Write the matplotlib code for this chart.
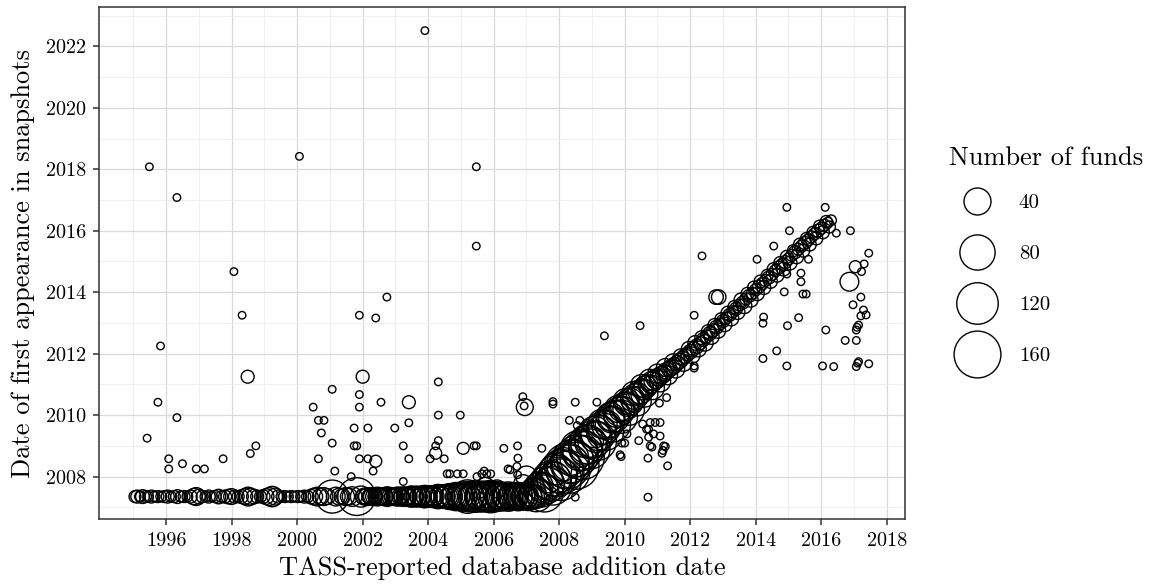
import numpy as np
import matplotlib
matplotlib.use("Agg")
import matplotlib.pyplot as plt
from matplotlib.lines import Line2D

# first date covered by the snapshots: funds already in the db sit on this line
FIRST_SNAPSHOT = 2007.35

# funds added before the snapshots started (x = TASS addition date, n = number of funds)
base_x = [1995.05, 1995.12, 1995.20, 1995.28, 1995.37, 1995.45, 1995.55, 1995.65, 1995.75, 1995.85, 1995.95,
          1996.05, 1996.15, 1996.25, 1996.35, 1996.45, 1996.55, 1996.65, 1996.75, 1996.85, 1996.92, 1997.00,
          1997.10, 1997.20, 1997.30, 1997.40, 1997.50, 1997.60, 1997.70, 1997.80, 1997.90, 1998.00,
          1998.10, 1998.20, 1998.30, 1998.40, 1998.50, 1998.58, 1998.68, 1998.78, 1998.88, 1998.96,
          1999.05, 1999.15, 1999.24, 1999.33, 1999.42, 1999.52, 1999.62, 1999.72, 1999.82, 1999.92,
          2000.02, 2000.12, 2000.22, 2000.32, 2000.42, 2000.52, 2000.62, 2000.72, 2000.82, 2000.92,
          2001.07, 2001.18, 2001.28, 2001.38, 2001.48, 2001.58, 2001.68, 2001.82, 2001.95,
          2002.05, 2002.15, 2002.25, 2002.35, 2002.45, 2002.55, 2002.65, 2002.75, 2002.85, 2002.95,
          2003.05, 2003.15, 2003.25, 2003.35, 2003.45, 2003.55, 2003.65, 2003.75, 2003.85, 2003.95,
          2004.05, 2004.15, 2004.25, 2004.35, 2004.45, 2004.55, 2004.65, 2004.75, 2004.85, 2004.95,
          2005.05, 2005.15, 2005.25, 2005.35, 2005.45, 2005.55, 2005.65, 2005.75, 2005.85, 2005.95,
          2006.05, 2006.15, 2006.25, 2006.35, 2006.45, 2006.55, 2006.65, 2006.75, 2006.85, 2006.95,
          2007.05, 2007.15,
          2002.00, 2002.10, 2002.20, 2002.30, 2002.40, 2002.50, 2002.60, 2002.70, 2002.80, 2002.90,
          2003.00, 2003.10, 2003.20, 2003.30, 2003.40, 2003.50, 2003.60, 2003.70, 2003.80, 2003.90,
          2004.00, 2004.10, 2004.20, 2004.30, 2004.40, 2004.50, 2004.60, 2004.70, 2004.80, 2004.90,
          2005.00, 2005.10, 2005.20, 2005.30, 2005.40, 2005.50, 2005.60, 2005.70, 2005.80, 2005.90,
          2006.00, 2006.10, 2006.20, 2006.30, 2006.40, 2006.50, 2006.60, 2006.70, 2006.80, 2006.90,
          2007.00, 2007.10, 2007.25]
base_n = [3, 4, 2, 5, 3, 2, 4, 2, 3, 2, 3,
          4, 2, 3, 5, 2, 3, 2, 4, 9, 12, 6,
          3, 2, 4, 2, 3, 6, 3, 4, 6, 8,
          4, 3, 5, 8, 14, 10, 6, 4, 3, 5,
          8, 12, 18, 10, 4, 2, 3, 2, 3, 2,
          3, 2, 4, 3, 6, 10, 14, 9, 12, 8,
          68, 14, 10, 8, 12, 10, 16, 95, 20,
          10, 12, 8, 10, 14, 9, 12, 16, 10, 12,
          14, 10, 16, 12, 18, 14, 20, 16, 22, 18,
          20, 16, 24, 20, 28, 24, 36, 30, 45, 40,
          50, 42, 55, 48, 60, 45, 58, 50, 52, 46,
          55, 40, 48, 36, 50, 42, 38, 46, 40, 34,
          44, 36,
          6, 8, 6, 12, 6, 10, 8, 6, 12, 8,
          10, 14, 8, 12, 10, 20, 12, 10, 14, 24,
          12, 22, 14, 30, 18, 20, 26, 22, 34, 28,
          36, 30, 70, 34, 40, 30, 44, 36, 40, 65,
          38, 30, 44, 28, 36, 30, 42, 28, 32, 26,
          30, 28, 30]

# main diagonal: funds that first show up in the snapshots after their addition
curve_x = [2007.20, 2007.28, 2007.36, 2007.44, 2007.52, 2007.60, 2007.68, 2007.76, 2007.84, 2007.92,
           2008.00, 2008.08, 2008.16, 2008.24, 2008.32, 2008.40, 2008.48, 2008.56, 2008.64, 2008.72,
           2008.80, 2008.88, 2008.96, 2009.04, 2009.12, 2009.20, 2009.28, 2009.36, 2009.44, 2009.52,
           2009.60, 2009.68, 2009.76, 2009.84, 2009.92, 2010.00, 2010.08, 2010.16, 2010.24, 2010.32,
           2010.40, 2010.48, 2010.56, 2010.64, 2010.72, 2010.80, 2010.88, 2010.96, 2011.04, 2011.12,
           2011.20, 2011.28, 2011.36, 2011.44, 2011.52, 2011.60, 2011.68, 2011.76, 2011.84, 2011.92,
           2012.00, 2012.10, 2012.20, 2012.30, 2012.40, 2012.50, 2012.60, 2012.70, 2012.80, 2012.90,
           2013.00, 2013.10, 2013.20, 2013.30, 2013.40, 2013.50, 2013.60, 2013.70, 2013.80, 2013.90,
           2014.00, 2014.10, 2014.20, 2014.30, 2014.40, 2014.50, 2014.60, 2014.70, 2014.80, 2014.90,
           2015.00, 2015.10, 2015.20, 2015.30, 2015.40, 2015.50, 2015.60, 2015.70, 2015.80, 2015.90,
           2016.00, 2016.10, 2016.20, 2016.30,
           2007.30, 2007.40, 2007.55, 2007.65, 2007.80, 2007.90, 2008.05, 2008.12, 2008.28, 2008.36,
           2008.50, 2008.60, 2008.70, 2008.84, 2008.94, 2009.08, 2009.16, 2009.32, 2009.40, 2009.56,
           2009.64, 2009.80, 2009.88, 2010.04, 2010.12, 2010.28, 2010.36, 2010.52, 2010.60, 2010.76,
           2010.84, 2011.00, 2011.08, 2011.24, 2011.32, 2011.48, 2011.56, 2011.72, 2011.80, 2011.96,
           2012.05, 2012.15, 2012.25, 2012.35, 2012.45, 2012.55, 2012.65, 2012.75, 2012.85, 2012.95,
           2013.05, 2013.15, 2013.25, 2013.35, 2013.45, 2013.55, 2013.65, 2013.75, 2013.85, 2013.95,
           2014.05, 2014.15, 2014.25, 2014.35, 2014.45, 2014.55, 2014.65, 2014.75, 2014.85, 2014.95,
           2015.05, 2015.15, 2015.25, 2015.35, 2015.45, 2015.55, 2015.65, 2015.75, 2015.85, 2015.95,
           2016.05, 2016.15, 2016.25]
curve_y = [2007.42, 2007.48, 2007.50, 2007.58, 2007.62, 2007.72, 2007.78, 2007.86, 2007.92, 2008.02,
           2008.06, 2008.16, 2008.22, 2008.34, 2008.40, 2008.50, 2008.58, 2008.68, 2008.76, 2008.86,
           2008.92, 2009.04, 2009.10, 2009.22, 2009.30, 2009.42, 2009.50, 2009.60, 2009.68, 2009.78,
           2009.86, 2009.96, 2010.04, 2010.12, 2010.20, 2010.28, 2010.36, 2010.44, 2010.52, 2010.60,
           2010.68, 2010.76, 2010.84, 2010.92, 2010.98, 2011.06, 2011.12, 2011.18, 2011.24, 2011.30,
           2011.36, 2011.44, 2011.50, 2011.56, 2011.62, 2011.70, 2011.76, 2011.84, 2011.92, 2011.98,
           2012.06, 2012.16, 2012.24, 2012.34, 2012.46, 2012.56, 2012.66, 2012.76, 2012.86, 2012.96,
           2013.06, 2013.16, 2013.26, 2013.36, 2013.46, 2013.58, 2013.66, 2013.78, 2013.88, 2013.96,
           2014.08, 2014.18, 2014.28, 2014.38, 2014.48, 2014.58, 2014.70, 2014.80, 2014.90, 2014.98,
           2015.08, 2015.20, 2015.30, 2015.40, 2015.50, 2015.60, 2015.70, 2015.80, 2015.90, 2016.00,
           2016.08, 2016.18, 2016.26, 2016.34,
           2007.40, 2007.70, 2007.45, 2007.95, 2007.70, 2008.25, 2007.90, 2008.40, 2008.15, 2008.62,
           2008.35, 2008.90, 2008.62, 2009.15, 2008.90, 2009.45, 2009.15, 2009.72, 2009.45, 2009.95,
           2009.70, 2010.20, 2009.95, 2010.45, 2010.18, 2010.70, 2010.45, 2010.95, 2010.70, 2011.15,
           2010.90, 2011.35, 2011.10, 2011.55, 2011.30, 2011.72, 2011.50, 2011.90, 2011.70, 2012.15,
           2011.95, 2012.35, 2012.15, 2012.52, 2012.35, 2012.72, 2012.55, 2012.92, 2012.75, 2013.12,
           2012.95, 2013.32, 2013.15, 2013.52, 2013.35, 2013.75, 2013.55, 2013.95, 2013.75, 2014.15,
           2013.95, 2014.35, 2014.15, 2014.55, 2014.35, 2014.75, 2014.55, 2014.95, 2014.75, 2015.15,
           2014.95, 2015.35, 2015.15, 2015.55, 2015.35, 2015.75, 2015.55, 2015.95, 2015.75, 2016.15,
           2015.95, 2016.30, 2016.12]
curve_n = [40, 60, 30, 80, 50, 90, 60, 110, 70, 120,
           80, 140, 90, 150, 100, 130, 90, 120, 80, 110,
           70, 100, 60, 90, 60, 80, 50, 70, 50, 60,
           40, 60, 40, 50, 35, 45, 30, 40, 30, 35,
           25, 30, 20, 25, 18, 20, 15, 16, 12, 12,
           10, 10, 8, 9, 8, 7, 7, 6, 6, 5,
           6, 5, 6, 4, 5, 4, 5, 4, 5, 3,
           4, 3, 4, 3, 4, 3, 4, 3, 4, 3,
           3, 4, 3, 3, 4, 3, 3, 4, 3, 4,
           3, 3, 4, 3, 3, 4, 3, 3, 3, 4,
           3, 3, 2, 2,
           70, 40, 90, 50, 100, 60, 120, 70, 130, 80,
           160, 90, 140, 70, 110, 60, 100, 50, 90, 45,
           80, 40, 70, 35, 60, 30, 50, 25, 40, 20,
           30, 15, 20, 12, 15, 10, 12, 8, 10, 7,
           9, 6, 8, 5, 9, 5, 7, 5, 7, 4,
           6, 5, 7, 4, 6, 5, 7, 4, 6, 4,
           5, 4, 5, 3, 5, 4, 5, 4, 5, 4,
           5, 3, 5, 4, 4, 3, 4, 3, 4, 3,
           4, 3, 3]

# scattered funds off the two main patterns
other_x = [1995.49, 1996.33, 2000.07, 2003.90, 2005.47, 2005.47, 1998.07, 1998.32, 1995.83, 1998.49,
           1995.75, 1996.33, 1995.42, 1996.08, 1996.08, 1996.50, 1996.92, 1997.17, 1997.74, 1998.57,
           1998.74, 2001.90, 2002.40, 2002.74, 2002.00, 2001.07, 2001.90, 2001.90, 2000.49, 2002.56,
           2003.41, 2000.65, 2000.82, 2000.74, 2001.74, 2002.16, 2002.98, 2003.41, 2001.07, 2001.74,
           2001.82, 2003.24, 2000.65, 2001.90, 2002.16, 2002.40, 2003.41, 2001.15, 2002.32, 2001.65,
           2003.24, 2004.31, 2004.31, 2004.98, 2004.31, 2004.23, 2004.23, 2004.06, 2004.49, 2005.07,
           2005.40, 2005.47, 2006.31, 2004.58, 2004.66, 2004.89, 2005.07, 2005.49, 2005.64, 2005.71,
           2005.79, 2005.91, 2006.44, 2006.50, 2006.71, 2006.73, 2006.89, 2006.95, 2006.93, 2007.81,
           2007.81, 2008.31, 2008.63, 2008.55, 2008.55, 2006.73, 2007.47, 2006.74, 2008.49, 2009.15,
           2009.38, 2010.47, 2009.38, 2010.07, 2009.91, 2010.00, 2009.86, 2009.89, 2008.49, 2010.71,
           2011.28, 2011.06, 2010.55, 2010.78, 2010.93, 2011.08, 2010.67, 2010.73, 2010.88, 2011.08,
           2010.43, 2010.73, 2010.78, 2010.83, 2011.19, 2011.24, 2011.14, 2011.17, 2010.71, 2011.31,
           2012.36, 2012.12, 2012.79, 2012.87, 2012.12, 2012.12, 2014.04, 2014.55, 2014.95, 2015.03,
           2016.12, 2014.95, 2015.38, 2015.38, 2015.61, 2014.87, 2015.44, 2015.54, 2014.24, 2014.22,
           2014.97, 2015.31, 2016.14, 2014.22, 2014.64, 2014.95, 2016.04, 2016.38, 2016.46, 2016.89,
           2017.45, 2017.04, 2017.31, 2017.23, 2016.86, 2017.21, 2016.97, 2017.29, 2017.37, 2017.21,
           2017.14, 2017.09, 2017.07, 2016.73, 2017.07, 2017.07, 2017.14, 2017.11, 2017.45,
           2005.55, 2005.75, 2006.10, 2006.90, 2007.00]
other_y = [2018.08, 2017.08, 2018.42, 2022.51, 2018.08, 2015.50, 2014.67, 2013.25, 2012.25, 2011.25,
           2010.42, 2009.92, 2009.25, 2008.58, 2008.25, 2008.42, 2008.25, 2008.25, 2008.58, 2008.75,
           2009.00, 2013.25, 2013.16, 2013.84, 2011.25, 2010.84, 2010.67, 2010.26, 2010.26, 2010.42,
           2010.42, 2009.83, 2009.83, 2009.42, 2009.58, 2009.58, 2009.58, 2009.75, 2009.09, 2009.00,
           2009.00, 2009.00, 2008.58, 2008.58, 2008.58, 2008.50, 2008.58, 2008.18, 2008.18, 2008.00,
           2007.84, 2011.08, 2010.00, 2010.00, 2009.17, 2009.00, 2008.76, 2008.58, 2008.58, 2008.92,
           2009.00, 2009.00, 2008.92, 2008.09, 2008.09, 2008.09, 2008.09, 2008.00, 2008.09, 2008.18,
           2008.09, 2008.09, 2008.25, 2008.22, 2008.33, 2008.06, 2010.60, 2010.26, 2010.30, 2010.44,
           2010.36, 2009.83, 2009.83, 2009.66, 2009.33, 2009.00, 2008.92, 2008.60, 2010.42, 2010.42,
           2012.58, 2012.91, 2010.19, 2009.39, 2009.09, 2009.09, 2008.71, 2008.65, 2007.33, 2007.33,
           2010.57, 2010.39, 2009.71, 2009.76, 2009.76, 2009.76, 2009.54, 2009.54, 2009.39, 2009.32,
           2009.17, 2009.28, 2009.00, 2008.96, 2009.00, 2008.98, 2008.76, 2008.85, 2008.60, 2008.35,
           2015.18, 2013.25, 2013.84, 2013.84, 2011.60, 2011.53, 2015.07, 2015.50, 2016.76, 2016.00,
           2016.76, 2014.59, 2014.62, 2014.34, 2015.07, 2014.01, 2013.94, 2013.94, 2013.19, 2012.99,
           2012.91, 2013.17, 2012.77, 2011.84, 2012.09, 2011.60, 2011.60, 2011.58, 2015.92, 2016.00,
           2015.27, 2014.83, 2014.92, 2014.67, 2014.34, 2013.84, 2013.59, 2013.42, 2013.26, 2013.23,
           2012.93, 2012.86, 2012.77, 2012.43, 2012.43, 2011.58, 2011.74, 2011.69, 2011.67,
           2007.55, 2007.70, 2007.60, 2007.75, 2008.00]
other_n = [1, 1, 1, 1, 1, 1, 1, 1, 1, 4,
           1, 1, 1, 1, 1, 1, 1, 1, 1, 1,
           1, 1, 1, 1, 4, 1, 1, 1, 1, 1,
           4, 1, 1, 1, 1, 1, 1, 1, 1, 1,
           1, 1, 1, 1, 1, 3, 1, 1, 1, 1,
           1, 1, 1, 1, 1, 1, 3, 1, 1, 3,
           1, 1, 1, 1, 1, 1, 1, 1, 1, 1,
           1, 1, 1, 1, 1, 1, 1, 10, 1, 1,
           1, 1, 1, 1, 1, 1, 1, 1, 1, 1,
           1, 1, 1, 1, 1, 1, 1, 1, 1, 1,
           1, 1, 1, 1, 1, 1, 1, 1, 1, 1,
           1, 1, 1, 1, 1, 1, 1, 1, 1, 1,
           1, 1, 6, 6, 1, 1, 1, 1, 1, 1,
           1, 1, 1, 1, 1, 1, 1, 1, 1, 1,
           1, 1, 1, 1, 1, 1, 1, 1, 1, 1,
           1, 3, 1, 1, 14, 1, 1, 1, 1, 1,
           1, 1, 1, 1, 1, 1, 1, 1, 1,
           8, 10, 12, 15, 20]

legend_breaks = [40, 80, 120, 160]
x_ticks = list(range(1996, 2019, 2))
y_ticks = list(range(2008, 2023, 2))

DPI = 100
MAX_N = 200


def diam_pt(n):
    # ggplot-like area scale: diameter grows with sqrt of the count
    n = np.asarray(n, dtype=float)
    d_px = 7.5 + 44 * np.sqrt((n - 1) / (MAX_N - 1))
    return d_px * 72 / DPI


plt.rcParams["font.family"] = "serif"
plt.rcParams["font.serif"] = ["cmr10", "DejaVu Serif"]
plt.rcParams["mathtext.fontset"] = "cm"
plt.rcParams["axes.formatter.use_mathtext"] = True

fig = plt.figure(figsize=(11.53, 5.87), dpi=DPI)
ax = fig.add_axes([0.0861, 0.1153, 0.6989, 0.8723])

all_x = base_x + curve_x + other_x
all_y = [FIRST_SNAPSHOT] * len(base_x) + curve_y + other_y
all_n = base_n + curve_n + other_n
ax.scatter(all_x, all_y, s=diam_pt(all_n) ** 2, facecolors="none",
           edgecolors="black", linewidths=1.0, zorder=3)

ax.set_xlim(1993.96, 2018.56)
ax.set_ylim(2006.61, 2023.27)
ax.set_xticks(x_ticks)
ax.set_xticklabels([str(t) for t in x_ticks])
ax.set_yticks(y_ticks)
ax.set_yticklabels([str(t) for t in y_ticks])
ax.set_xticks(list(range(1995, 2019, 2)), minor=True)
ax.set_yticks(list(range(2007, 2024, 2)), minor=True)
ax.grid(which="major", color="#d9d9d9", linewidth=0.9, zorder=0)
ax.grid(which="minor", color="#ececec", linewidth=0.6, zorder=0)
ax.set_axisbelow(True)
ax.tick_params(which="major", length=4.5, width=1.1, color="#333333",
               labelsize=14.5, pad=5, labelcolor="black")
ax.tick_params(which="minor", length=0)
for sp in ax.spines.values():
    sp.set_color("#333333")
    sp.set_linewidth(1.1)

ax.set_xlabel("TASS-reported database addition date", fontsize=19, labelpad=4)
ax.set_ylabel("Date of first appearance in snapshots", fontsize=19, labelpad=8)

# size legend: title as its own text so the gap to the keys can be set
fig.text(0.8235, 0.731, "Number of funds", fontsize=19, va="center", ha="left")
handles = [Line2D([], [], marker="o", linestyle="none", markerfacecolor="none",
                  markeredgecolor="black", markeredgewidth=1.0,
                  markersize=float(diam_pt(b))) for b in legend_breaks]
fig.legend(handles, [str(b) for b in legend_breaks],
           loc="center left", bbox_to_anchor=(0.812, 0.524), frameon=False,
           fontsize=15, labelspacing=1.55,
           handletextpad=0.58, handlelength=2.88, borderpad=0)

fig.savefig("out.png", dpi=DPI)
